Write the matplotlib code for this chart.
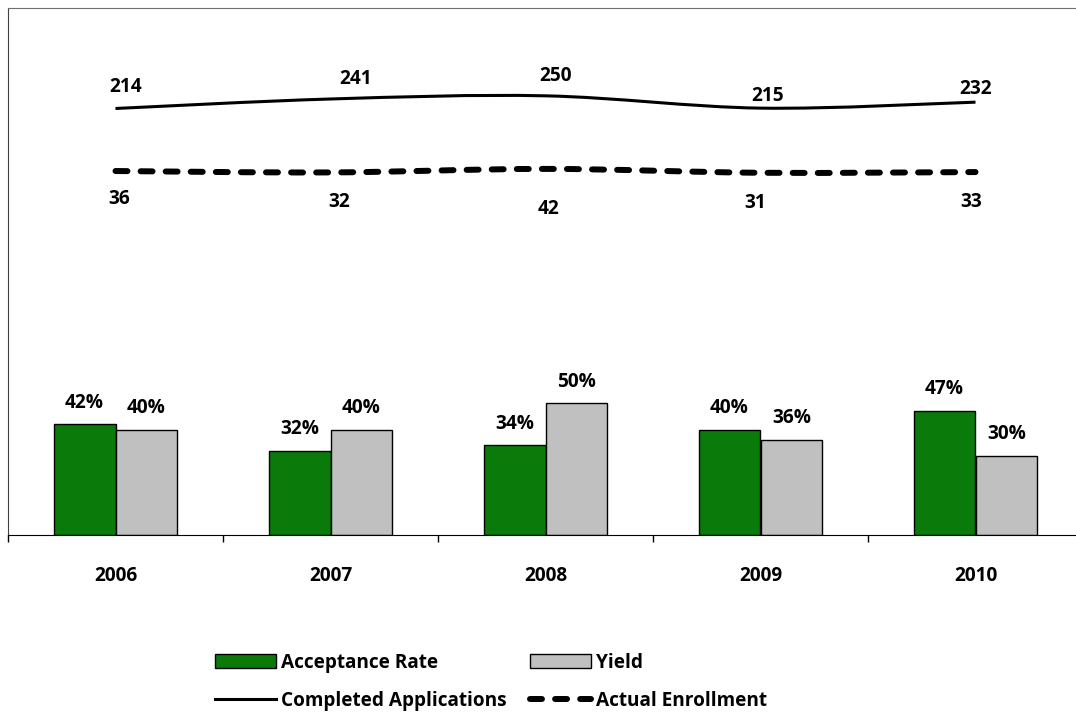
import matplotlib
matplotlib.use("Agg")
import matplotlib.pyplot as plt
from matplotlib.path import Path
from matplotlib.patches import PathPatch
from matplotlib.lines import Line2D
from matplotlib.patches import Patch

plt.rcParams['font.family'] = ['Open Sans', 'DejaVu Sans']
plt.rcParams['font.weight'] = 'bold'

# data
years = ["2006", "2007", "2008", "2009", "2010"]
acceptance = [42, 32, 34, 40, 47]
yield_rate = [40, 40, 50, 36, 30]
completed = [214, 241, 250, 215, 232]
enrollment = [36, 32, 42, 31, 33]

# label nudges (points)
comp_off = [(7, 15.5), (18, 14.5), (7, 14.5), (5, 8.5), (0, 9.5)]
enr_off = [(3, -20.5), (6, -21), (2, -29), (-4, -21.5), (-3, -21.5)]

GREEN = "#0a7a0a"
GREY = "#c0c0c0"
FS = 13.7

fig = plt.figure(figsize=(10.76, 7.12), dpi=100)
ax = fig.add_axes([8 / 1076, 177 / 712, 1075 / 1076, 527 / 712])
x = list(range(len(years)))
w = 0.288

ax.bar([i - w / 2 for i in x], acceptance, w, color=GREEN, edgecolor="black", linewidth=1)
ax.bar([i + w / 2 for i in x], yield_rate, w, color=GREY, edgecolor="black", linewidth=1)
for i in x:
    ax.annotate(f"{acceptance[i]}%", (i - w / 2, acceptance[i]), xytext=(0, 12),
                textcoords="offset points", ha="center", va="baseline", fontsize=FS, fontweight="bold")
    ax.annotate(f"{yield_rate[i]}%", (i + w / 2, yield_rate[i]), xytext=(0, 12),
                textcoords="offset points", ha="center", va="baseline", fontsize=FS, fontweight="bold")

ax.set_xlim(-0.5, len(years) - 0.5)
ax.set_ylim(0, 200)
ax.set_yticks([])
ax.set_xticks(x, years, fontsize=FS, fontweight="bold")
ax.set_xticks([i - 0.5 for i in range(len(years) + 1)], minor=True)
ax.tick_params(axis="x", which="major", length=0, pad=22.5)
ax.tick_params(axis="x", which="minor", length=5, width=1, color="black")
ax.spines["right"].set_visible(False)
ax.spines["top"].set_color("#707070")
ax.spines["left"].set_color("#404040")
ax.spines["bottom"].set_color("black")

ax2 = ax.twinx()
ax2.set_ylim(-1000, 500)
ax2.set_yticks([])
for s in ax2.spines.values():
    s.set_visible(False)


def smooth_path(xs, ys):
    # Catmull-Rom style bezier through the points, like Excel's smoothed line
    pts = list(zip(xs, ys))
    verts = [pts[0]]
    codes = [Path.MOVETO]
    n = len(pts)
    for i in range(n - 1):
        p0 = pts[i - 1] if i > 0 else pts[i]
        p1 = pts[i]
        p2 = pts[i + 1]
        p3 = pts[i + 2] if i + 2 < n else pts[i + 1]
        c1 = (p1[0] + (p2[0] - p0[0]) / 6, p1[1] + (p2[1] - p0[1]) / 6)
        c2 = (p2[0] - (p3[0] - p1[0]) / 6, p2[1] - (p3[1] - p1[1]) / 6)
        verts += [c1, c2, p2]
        codes += [Path.CURVE4] * 3
    return Path(verts, codes)


ax2.add_patch(PathPatch(smooth_path(x, completed), fill=False, edgecolor="black",
                        linewidth=2.2, capstyle="butt"))
dash = PathPatch(smooth_path(x, enrollment), fill=False, edgecolor="black",
                 linewidth=4.3, capstyle="round", linestyle=(0, (2.0, 2.2)))
ax2.add_patch(dash)

for i in x:
    ax2.annotate(str(completed[i]), (i, completed[i]), xytext=comp_off[i],
                 textcoords="offset points", ha="center", va="center", fontsize=FS, fontweight="bold")
    ax2.annotate(str(enrollment[i]), (i, enrollment[i]), xytext=enr_off[i],
                 textcoords="offset points", ha="center", va="center", fontsize=FS, fontweight="bold")

# legend, two columns built as two legends
common = dict(frameon=False, handlelength=3.2, handleheight=0.75,
              handletextpad=0.25, labelspacing=0.95, borderpad=0, borderaxespad=0,
              loc="upper left", prop={"weight": "bold", "size": FS})
h1 = [Patch(facecolor=GREEN, edgecolor="black", linewidth=1),
      Line2D([], [], color="black", linewidth=2.2)]
h2 = [Patch(facecolor=GREY, edgecolor="black", linewidth=1),
      Line2D([], [], color="black", linewidth=4.3, linestyle=(0, (2.0, 2.2)),
             dash_capstyle="round")]
leg1 = fig.legend(h1, ["Acceptance Rate", "Completed Applications"],
                  bbox_to_anchor=(215 / 1076, 1 - 653 / 712), **common)
leg2 = fig.legend(h2, ["Yield", "Actual Enrollment"],
                  bbox_to_anchor=(530 / 1076, 1 - 653 / 712), **common)

fig.savefig("out.png", dpi=100)
